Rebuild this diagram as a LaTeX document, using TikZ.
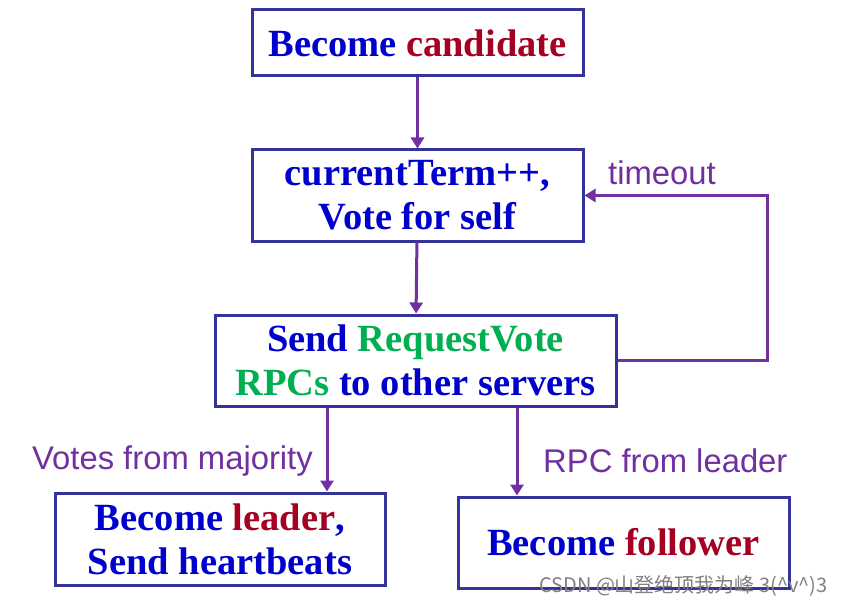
\documentclass[tikz,border=0pt]{standalone}
\usepackage{fontspec}
\setmainfont{Liberation Serif}
\newfontfamily\lblfont{Liberation Sans}
\newfontfamily\cjkfont{Noto Sans CJK SC}
\usetikzlibrary{arrows.meta}
\definecolor{boxblue}{RGB}{51,51,153}
\definecolor{arrpurple}{RGB}{112,48,160}
\definecolor{txtblue}{RGB}{0,0,204}
\definecolor{txtred}{RGB}{165,0,33}
\definecolor{txtgreen}{RGB}{0,176,80}
\begin{document}
\begin{tikzpicture}[x=1pt,y=-1pt,
  stepbox/.style={draw=boxblue,line width=3pt,fill=white,inner sep=0pt,align=center,
    font=\fontsize{38.5}{44}\selectfont\bfseries,text=txtblue},
  arr/.style={draw=arrpurple,line width=3pt,-{Triangle[width=13pt,length=11pt]}},
  lbl/.style={font=\lblfont\fontsize{32.8}{38}\selectfont,text=arrpurple,inner sep=0pt}]
\useasboundingbox (0,0) rectangle (844,607);
\node[stepbox,minimum width=331pt,minimum height=66pt] (b1) at (417.5,43) {Become \textcolor{txtred}{candidate}};
\node[stepbox,minimum width=331pt,minimum height=91pt] (b2) at (417.5,195.5) {currentTerm++,\\Vote for self};
\node[stepbox,minimum width=401pt,minimum height=91pt] (b3) at (415.5,360.5) {Send \textcolor{txtgreen}{RequestVote}\\\textcolor{txtgreen}{RPCs} to other servers};
\node[stepbox,minimum width=330pt,minimum height=92pt] (b4) at (220,539) {Become \textcolor{txtred}{leader},\\Send heartbeats};
\node[stepbox,minimum width=331pt,minimum height=91pt] (b5) at (623.5,542.5) {Become \textcolor{txtred}{follower}};
\coordinate (mA) at (327,0);
\coordinate (mB) at (517,0);
\coordinate (loopx) at (767,0);
\draw[arr] (b1) -- (b2);
\draw[arr] (b2) -- (b3);
\draw[arr] (b3.south -| mA) -- (b4.north -| mA);
\draw[arr] (b3.south -| mB) -- (b5.north -| mB);
\draw[arr] (b3.east) -- (b3.east -| loopx) -- (b2.east -| loopx) -- (b2.east);
\node[lbl] (t1) at (662,173) {timeout};
\node[lbl,anchor=east] (t2) at (313,461) {Votes from majority};
\node[lbl,anchor=west] (t3) at (543,461) {RPC from leader};
\node[font=\cjkfont\fontsize{20}{24}\selectfont,text=gray,anchor=east,inner sep=0pt] (wm) at (828,586) {CSDN @山登绝顶我为峰 3(\textasciicircum v\textasciicircum)3};
\end{tikzpicture}
\end{document}
